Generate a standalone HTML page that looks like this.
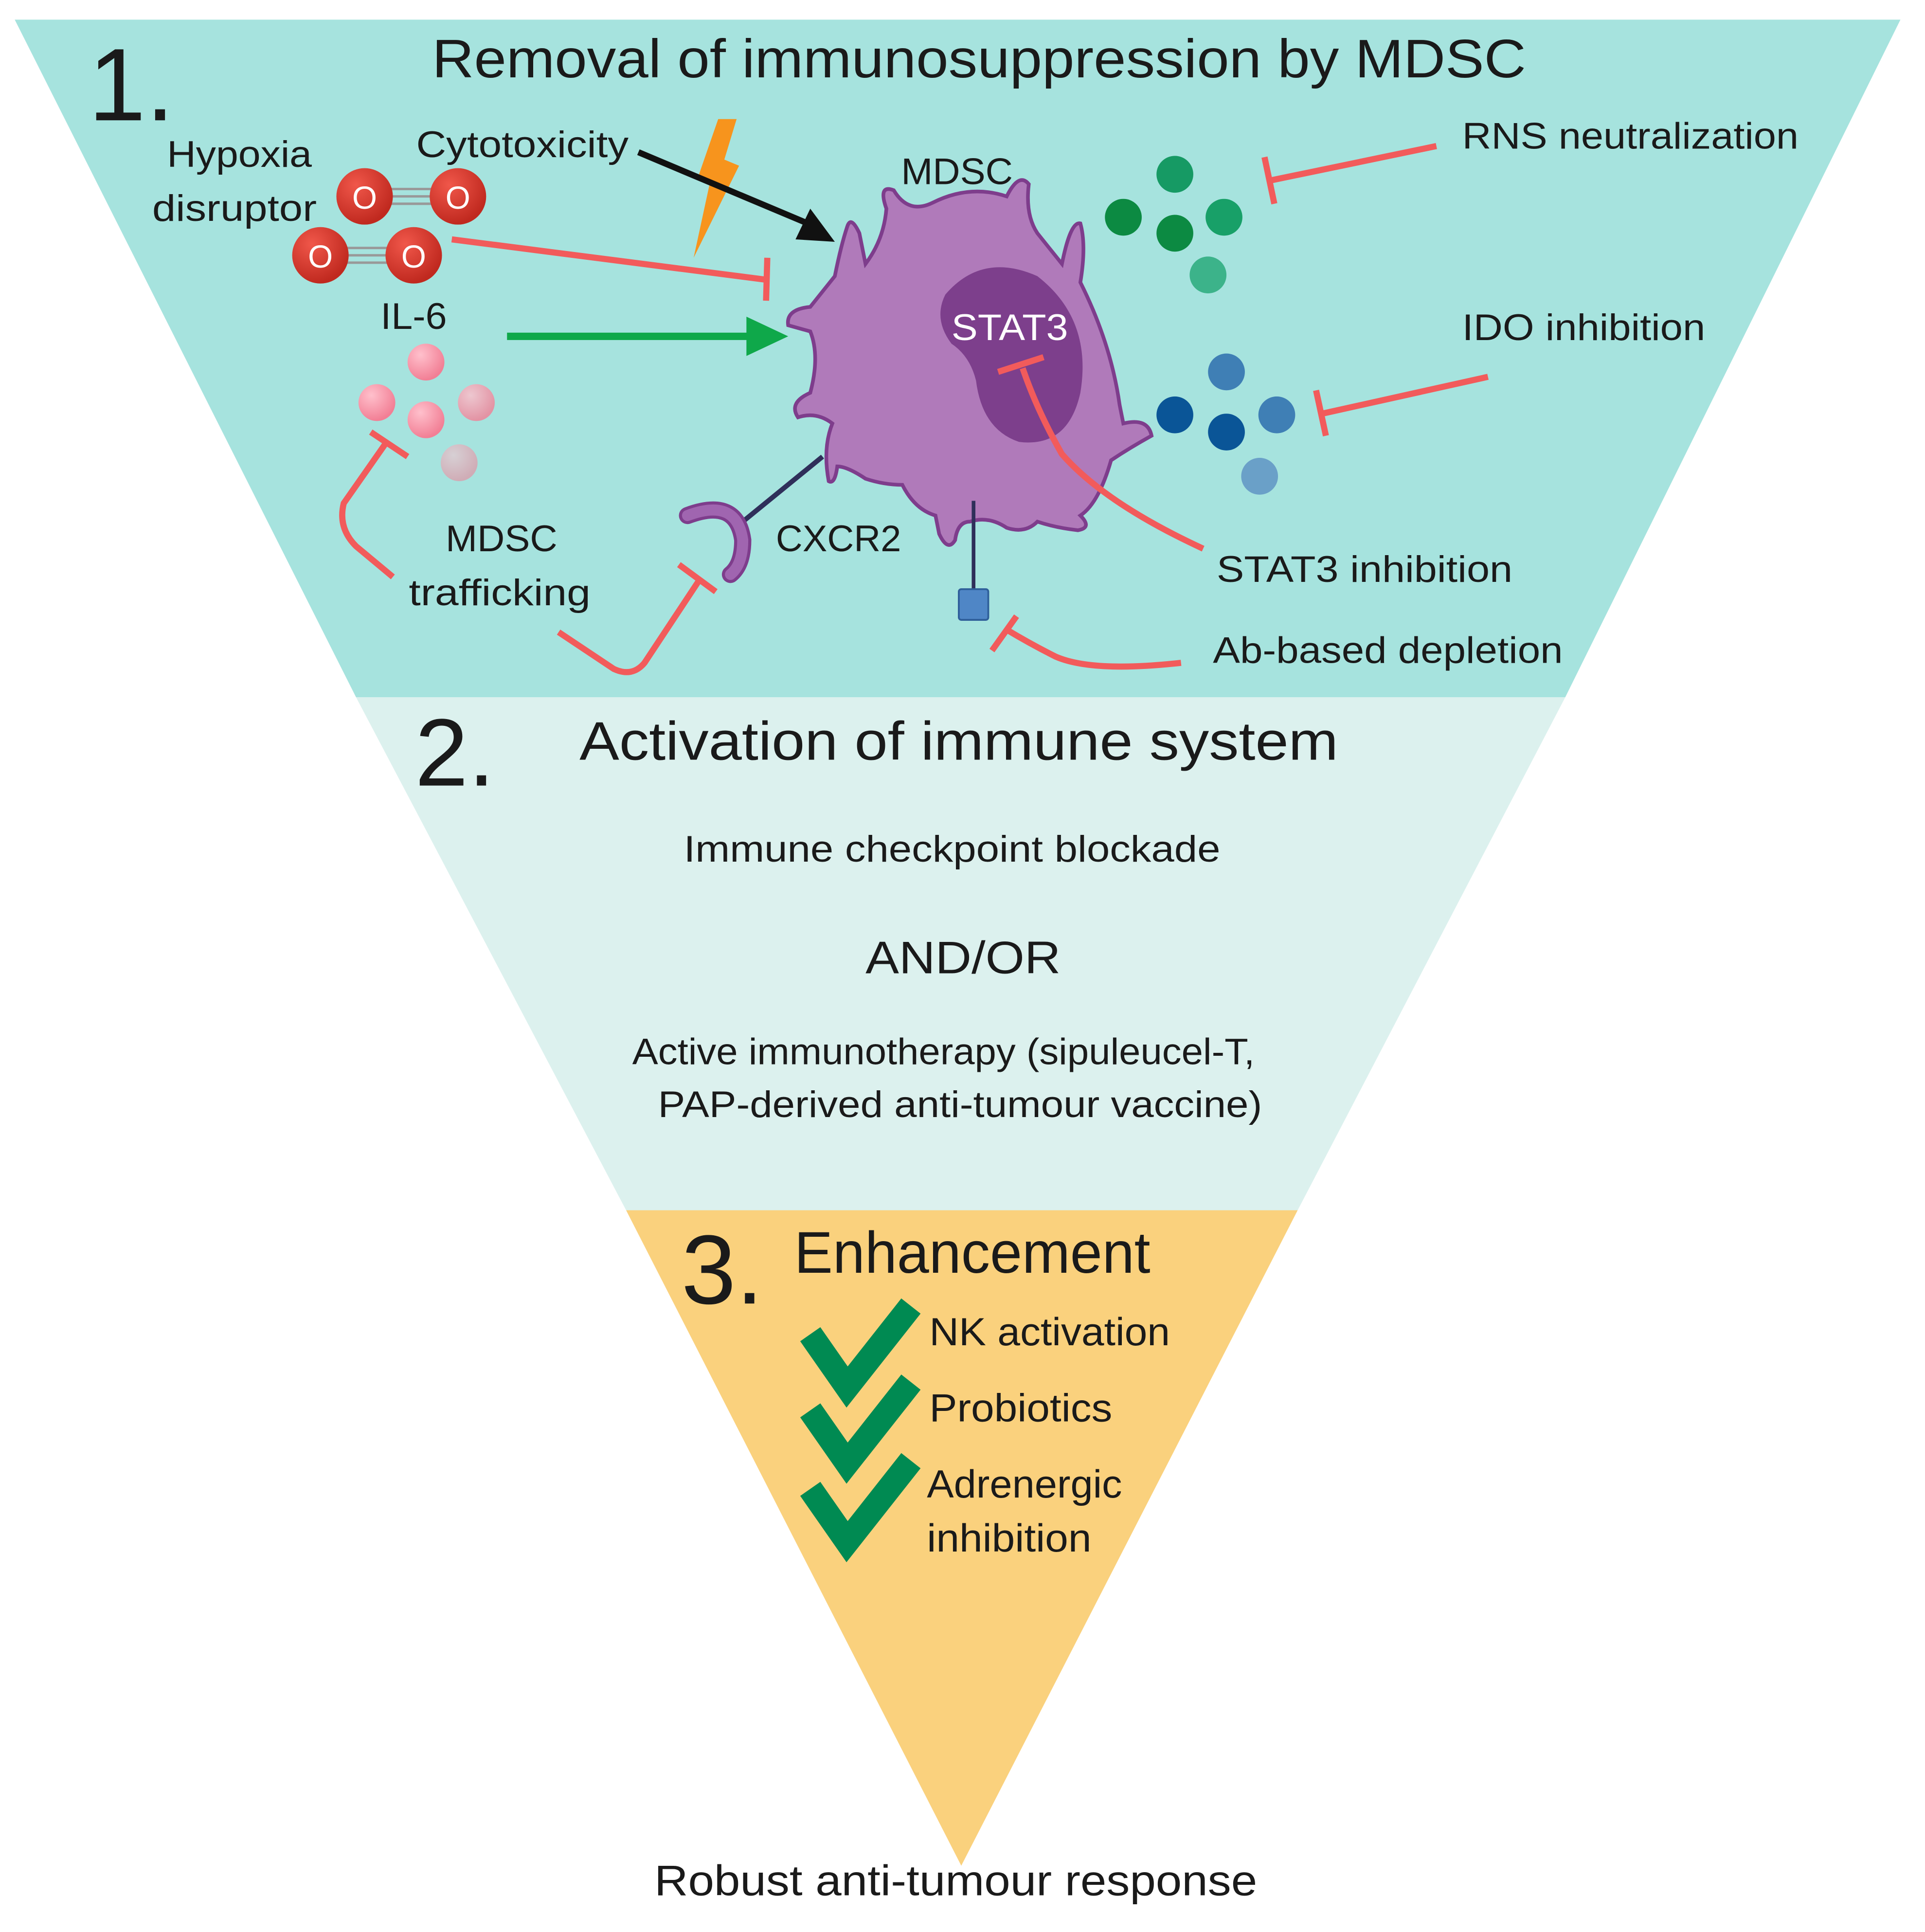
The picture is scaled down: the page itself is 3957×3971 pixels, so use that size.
<!DOCTYPE html>
<html><head><meta charset="utf-8"><style>
html,body{margin:0;padding:0;background:#fff;}
svg{display:block;}
text{font-family:"Liberation Sans",sans-serif;fill:#1a1a1a;}
</style></head><body>
<svg width="3957" height="3971" viewBox="0 0 1568 1574" preserveAspectRatio="none" xmlns="http://www.w3.org/2000/svg">
<defs>
<radialGradient id="red" cx="35%" cy="30%" r="70%"><stop offset="0" stop-color="#f0574a"/><stop offset="1" stop-color="#c0291f"/></radialGradient>
<radialGradient id="pink" cx="35%" cy="30%" r="70%"><stop offset="0" stop-color="#ffc0cc"/><stop offset="1" stop-color="#f27f95"/></radialGradient>
</defs>
<polygon points="12,16 1548,16 1275,568 290,568" fill="#a6e3de"/>
<polygon points="290,568 1275,568 1057,986 510,986" fill="#dcf1ee"/>
<polygon points="510,986 1057,986 783,1520" fill="#fad17d"/>

<text x="72" y="98" font-size="84">1.</text>
<text x="352" y="63" font-size="44" textLength="891" lengthAdjust="spacingAndGlyphs">Removal of immunosuppression by MDSC</text>

<!-- cell -->
<path d="M690,185 Q693,175 700,190 L705,215 Q720,195 722,170 Q715,150 728,155 Q740,175 760,165 Q790,150 820,160 Q830,140 838,150 Q835,175 845,190 L865,215 Q872,180 880,182 Q885,200 880,230 Q905,280 912,330 L915,345 Q935,340 938,355 Q920,365 905,375 Q895,410 880,420 Q890,430 878,432 Q860,430 845,425 Q835,435 820,430 Q805,420 790,425 Q780,425 778,440 Q772,450 765,435 L762,420 Q745,415 735,395 Q720,395 705,390 Q690,380 682,380 Q680,395 675,392 Q670,365 678,345 Q665,335 650,340 Q642,328 660,320 Q668,290 660,270 L642,265 Q640,252 660,250 Q672,235 680,225 Q685,200 690,185 Z" fill="#b07aba" stroke="#7e3d8c" stroke-width="3"/>
<path d="M770,240 Q800,205 845,225 Q890,260 880,320 Q870,365 830,360 Q800,350 795,310 Q790,290 775,280 Q760,260 770,240 Z" fill="#7d3f8c"/>
<text x="775" y="277" font-size="30" style="fill:#fff" textLength="95" lengthAdjust="spacingAndGlyphs">STAT3</text>
<text x="734" y="150" font-size="30" textLength="91" lengthAdjust="spacingAndGlyphs">MDSC</text>

<!-- CXCR2 -->
<line x1="670" y1="372" x2="605" y2="425" stroke="#2f2f5a" stroke-width="4"/>
<path d="M560,420 Q600,405 605,440 Q605,460 595,468" fill="none" stroke="#7e3d8c" stroke-width="14" stroke-linecap="round"/>
<path d="M560,420 Q600,405 605,440 Q605,460 595,468" fill="none" stroke="#a065b0" stroke-width="9" stroke-linecap="round"/>
<text x="632" y="449" font-size="30" textLength="102" lengthAdjust="spacingAndGlyphs">CXCR2</text>
<line x1="793" y1="408" x2="793" y2="480" stroke="#2f2f5a" stroke-width="3"/>
<rect x="781" y="480" width="24" height="25" rx="2" fill="#4f86c6" stroke="#2f5f9a" stroke-width="1.5"/>

<!-- lightning -->
<polygon points="585,97 600,97 590,130 602,135 565,210 578,150 568,146" fill="#f7941d"/>
<line x1="520" y1="124" x2="665" y2="185" stroke="#111" stroke-width="5"/>
<polygon points="680,197 648,195 660,170" fill="#111"/>
<text x="339" y="128" font-size="30" textLength="173" lengthAdjust="spacingAndGlyphs">Cytotoxicity</text>

<!-- O2 -->
<text x="136" y="136" font-size="30" textLength="118" lengthAdjust="spacingAndGlyphs">Hypoxia</text>
<text x="124" y="180" font-size="30" textLength="134" lengthAdjust="spacingAndGlyphs">disruptor</text>
<g stroke="#999" stroke-width="2"><line x1="305" y1="154" x2="365" y2="154"/><line x1="305" y1="160" x2="365" y2="160"/><line x1="305" y1="166" x2="365" y2="166"/>
<line x1="270" y1="202" x2="330" y2="202"/><line x1="270" y1="208" x2="330" y2="208"/><line x1="270" y1="214" x2="330" y2="214"/></g>
<circle cx="297" cy="160" r="23" fill="url(#red)"/><circle cx="373" cy="160" r="23" fill="url(#red)"/>
<circle cx="261" cy="208" r="23" fill="url(#red)"/><circle cx="337" cy="208" r="23" fill="url(#red)"/>
<g font-size="26" text-anchor="middle"><text x="297" y="170" style="fill:#fff">O</text><text x="373" y="170" style="fill:#fff">O</text><text x="261" y="218" style="fill:#fff">O</text><text x="337" y="218" style="fill:#fff">O</text></g>
<line x1="368" y1="195" x2="625" y2="228" stroke="#f25b5b" stroke-width="5"/>
<line x1="625" y1="210" x2="624" y2="245" stroke="#f25b5b" stroke-width="5"/>

<!-- IL-6 -->
<text x="310" y="268" font-size="30" textLength="54" lengthAdjust="spacingAndGlyphs">IL-6</text>
<circle cx="347" cy="295" r="15" fill="url(#pink)"/>
<circle cx="307" cy="328" r="15" fill="url(#pink)"/>
<circle cx="347" cy="342" r="15" fill="url(#pink)"/>
<circle cx="388" cy="328" r="15" fill="url(#pink)" opacity="0.8"/>
<circle cx="374" cy="377" r="15" fill="url(#pink)" opacity="0.55"/>
<line x1="413" y1="274" x2="610" y2="274" stroke="#0fa84a" stroke-width="6"/>
<polygon points="642,274 608,258 608,290" fill="#0fa84a"/>

<!-- trafficking -->
<text x="363" y="449" font-size="30" textLength="91" lengthAdjust="spacingAndGlyphs">MDSC</text>
<text x="333" y="493" font-size="30" textLength="148" lengthAdjust="spacingAndGlyphs">trafficking</text>
<path d="M320,470 L290,445 Q275,430 280,410 L315,360" fill="none" stroke="#f25b5b" stroke-width="5"/>
<line x1="302" y1="352" x2="332" y2="372" stroke="#f25b5b" stroke-width="5"/>
<path d="M455,515 L500,545 Q515,552 525,540 L570,472" fill="none" stroke="#f25b5b" stroke-width="5"/>
<line x1="553" y1="460" x2="583" y2="482" stroke="#f25b5b" stroke-width="5"/>

<!-- right molecules -->
<circle cx="957" cy="142" r="15" fill="#169a64"/>
<circle cx="915" cy="177" r="15" fill="#0c8a42"/>
<circle cx="957" cy="190" r="15" fill="#0c8a42"/>
<circle cx="997" cy="177" r="15" fill="#18a068"/>
<circle cx="984" cy="224" r="15" fill="#3cb38a"/>
<circle cx="999" cy="303" r="15" fill="#3f7fb5"/>
<circle cx="957" cy="338" r="15" fill="#0a5597"/>
<circle cx="999" cy="352" r="15" fill="#0a5597"/>
<circle cx="1040" cy="338" r="15" fill="#3f7fb5"/>
<circle cx="1026" cy="388" r="15" fill="#6aa0c8"/>
<line x1="1170" y1="119" x2="1035" y2="147" stroke="#f25b5b" stroke-width="5"/>
<line x1="1030" y1="128" x2="1038" y2="166" stroke="#f25b5b" stroke-width="5"/>
<line x1="1212" y1="307" x2="1077" y2="337" stroke="#f25b5b" stroke-width="5"/>
<line x1="1072" y1="318" x2="1080" y2="355" stroke="#f25b5b" stroke-width="5"/>
<text x="1191" y="121" font-size="30" textLength="274" lengthAdjust="spacingAndGlyphs">RNS neutralization</text>
<text x="1191" y="277" font-size="30" textLength="198" lengthAdjust="spacingAndGlyphs">IDO inhibition</text>

<!-- STAT3 inhibition -->
<path d="M980,447 Q900,410 865,370 Q845,335 833,300" fill="none" stroke="#f25b5b" stroke-width="5"/>
<line x1="813" y1="303" x2="850" y2="291" stroke="#f25b5b" stroke-width="5"/>
<text x="991" y="474" font-size="30" textLength="241" lengthAdjust="spacingAndGlyphs">STAT3 inhibition</text>
<path d="M962,540 Q890,548 860,535 Q840,525 820,513" fill="none" stroke="#f25b5b" stroke-width="5"/>
<line x1="808" y1="530" x2="828" y2="502" stroke="#f25b5b" stroke-width="5"/>
<text x="988" y="540" font-size="30" textLength="285" lengthAdjust="spacingAndGlyphs">Ab-based depletion</text>

<!-- section 2 -->
<text x="338" y="640" font-size="78">2.</text>
<text x="472" y="619" font-size="44" textLength="618" lengthAdjust="spacingAndGlyphs">Activation of immune system</text>
<text x="557" y="702" font-size="30" textLength="437" lengthAdjust="spacingAndGlyphs">Immune checkpoint blockade</text>
<text x="705" y="793" font-size="37" textLength="159" lengthAdjust="spacingAndGlyphs">AND/OR</text>
<text x="515" y="867" font-size="30" textLength="507" lengthAdjust="spacingAndGlyphs">Active immunotherapy (sipuleucel-T,</text>
<text x="536" y="910" font-size="30" textLength="492" lengthAdjust="spacingAndGlyphs">PAP-derived anti-tumour vaccine)</text>

<!-- section 3 -->
<text x="555" y="1062" font-size="80">3.</text>
<text x="647" y="1037" font-size="48" textLength="290" lengthAdjust="spacingAndGlyphs">Enhancement</text>
<g fill="none" stroke="#008a52" stroke-width="20" stroke-linejoin="miter">
<polyline points="660,1087 690,1130 742,1064"/>
<polyline points="660,1149 690,1192 742,1126"/>
<polyline points="660,1213 690,1256 742,1190"/>
</g>
<text x="757" y="1096" font-size="32" textLength="196" lengthAdjust="spacingAndGlyphs">NK activation</text>
<text x="757" y="1158" font-size="32" textLength="149" lengthAdjust="spacingAndGlyphs">Probiotics</text>
<text x="755" y="1220" font-size="32" textLength="159" lengthAdjust="spacingAndGlyphs">Adrenergic</text>
<text x="755" y="1264" font-size="32" textLength="134" lengthAdjust="spacingAndGlyphs">inhibition</text>

<text x="533" y="1544" font-size="35" textLength="491" lengthAdjust="spacingAndGlyphs">Robust anti-tumour response</text>
</svg>
</body></html>
